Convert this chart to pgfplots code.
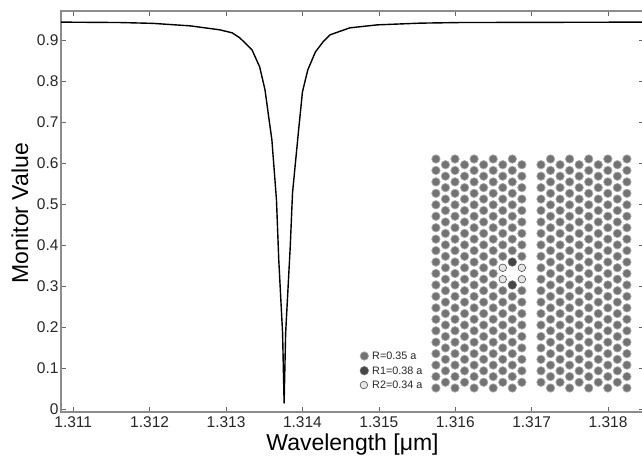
\documentclass[border=0pt]{standalone}
\usepackage{fontspec}
\setmainfont{Liberation Sans}
\usepackage{pgfplots}
\pgfplotsset{compat=1.18}
\definecolor{axisgray}{gray}{0.55}
\definecolor{holegray}{gray}{0.45}
\definecolor{haloegray}{gray}{0.66}
\begin{document}
\begin{tikzpicture}[x=1pt,y=1pt]
\path[use as bounding box] (0,0) rectangle (642,459);
\clip (0,0) rectangle (642,459);
\begin{axis}[
  at={(61pt,47pt)}, anchor=south west,
  scale only axis, width=583pt, height=401pt,
  xmin=1.31084, xmax=1.31847, ymin=-0.0076, ymax=0.9725,
  xtick={1.311,1.312,1.313,1.314,1.315,1.316,1.317,1.318},
  xticklabels={1.311,1.312,1.313,1.314,1.315,1.316,1.317,1.318},
  ytick={0,0.1,0.2,0.3,0.4,0.5,0.6,0.7,0.8,0.9},
  yticklabels={0,0.1,0.2,0.3,0.4,0.5,0.6,0.7,0.8,0.9},
  scaled x ticks=false,
  axis line style={axisgray,line width=1.3pt},
  tick style={black!60,line width=0.7pt},
  major tick length=5pt,
  tick align=inside,
  ticklabel style={font=\fontsize{15.5}{17}\selectfont,text=black!85},
  xticklabel style={yshift=-1pt},
  yticklabel style={xshift=1pt},
  xlabel={Wavelength [μm]},
  ylabel={Monitor Value},
  label style={font=\fontsize{23}{26}\selectfont},
  xlabel style={at={(axis description cs:0.5,-0.097)},anchor=base},
  ylabel style={at={(axis description cs:-0.0566,0.496)},anchor=base},
]
\addplot[black,line width=1.4pt,line join=round] coordinates {
(1.31084,0.9453)(1.31161,0.9443)(1.31204,0.9423)(1.31253,0.9362)(1.31292,0.9264)
(1.31308,0.9191)(1.31318,0.9069)(1.31334,0.8775)(1.31344,0.8359)(1.31351,0.7797)
(1.31356,0.7112)(1.31360,0.6575)(1.31366,0.5108)(1.31369,0.3641)(1.31374,0.1856)
(1.31376,0.0144)(1.31378,0.1856)(1.31384,0.3958)(1.31387,0.5279)(1.31395,0.682)
(1.31400,0.7748)(1.31407,0.8286)(1.31417,0.8726)(1.31427,0.897)(1.31436,0.9142)
(1.31462,0.9313)(1.31498,0.9386)(1.31554,0.9428)(1.31606,0.9443)(1.31847,0.9453)};
\end{axis}
\begin{axis}[
  at={(340pt,59pt)}, anchor=south west,
  scale only axis, width=302pt, height=250pt,
  xmin=-10.042, xmax=21.58, ymin=-2.096, ymax=41.572,
  hide axis, clip=false,
]
\addplot[only marks,mark=*,mark size=4.2pt,
  mark options={fill=holegray,draw=haloegray,line width=0.7pt}] coordinates {
(0,40)(2,40)(4,40)(6,40)(8,40)(12,40)(14,40)(16,40)(18,40)(20,40)
(1,39)(3,39)(5,39)(7,39)(9,39)(11,39)(13,39)(15,39)(17,39)(19,39)
(0,38)(2,38)(4,38)(6,38)(8,38)(12,38)(14,38)(16,38)(18,38)(20,38)
(1,37)(3,37)(5,37)(7,37)(9,37)(11,37)(13,37)(15,37)(17,37)(19,37)
(0,36)(2,36)(4,36)(6,36)(8,36)(12,36)(14,36)(16,36)(18,36)(20,36)
(1,35)(3,35)(5,35)(7,35)(9,35)(11,35)(13,35)(15,35)(17,35)(19,35)
(0,34)(2,34)(4,34)(6,34)(8,34)(12,34)(14,34)(16,34)(18,34)(20,34)
(1,33)(3,33)(5,33)(7,33)(9,33)(11,33)(13,33)(15,33)(17,33)(19,33)
(0,32)(2,32)(4,32)(6,32)(8,32)(12,32)(14,32)(16,32)(18,32)(20,32)
(1,31)(3,31)(5,31)(7,31)(9,31)(11,31)(13,31)(15,31)(17,31)(19,31)
(0,30)(2,30)(4,30)(6,30)(8,30)(12,30)(14,30)(16,30)(18,30)(20,30)
(1,29)(3,29)(5,29)(7,29)(9,29)(11,29)(13,29)(15,29)(17,29)(19,29)
(0,28)(2,28)(4,28)(6,28)(8,28)(12,28)(14,28)(16,28)(18,28)(20,28)
(1,27)(3,27)(5,27)(7,27)(9,27)(11,27)(13,27)(15,27)(17,27)(19,27)
(0,26)(2,26)(4,26)(6,26)(8,26)(12,26)(14,26)(16,26)(18,26)(20,26)
(1,25)(3,25)(5,25)(7,25)(9,25)(11,25)(13,25)(15,25)(17,25)(19,25)
(0,24)(2,24)(4,24)(6,24)(8,24)(12,24)(14,24)(16,24)(18,24)(20,24)
(1,23)(3,23)(5,23)(7,23)(9,23)(11,23)(13,23)(15,23)(17,23)(19,23)
(0,22)(2,22)(4,22)(6,22)(12,22)(14,22)(16,22)(18,22)(20,22)
(1,21)(3,21)(5,21)(11,21)(13,21)(15,21)(17,21)(19,21)
(0,20)(2,20)(4,20)(6,20)(12,20)(14,20)(16,20)(18,20)(20,20)
(1,19)(3,19)(5,19)(11,19)(13,19)(15,19)(17,19)(19,19)
(0,18)(2,18)(4,18)(6,18)(12,18)(14,18)(16,18)(18,18)(20,18)
(1,17)(3,17)(5,17)(7,17)(9,17)(11,17)(13,17)(15,17)(17,17)(19,17)
(0,16)(2,16)(4,16)(6,16)(8,16)(12,16)(14,16)(16,16)(18,16)(20,16)
(1,15)(3,15)(5,15)(7,15)(9,15)(11,15)(13,15)(15,15)(17,15)(19,15)
(0,14)(2,14)(4,14)(6,14)(8,14)(12,14)(14,14)(16,14)(18,14)(20,14)
(1,13)(3,13)(5,13)(7,13)(9,13)(11,13)(13,13)(15,13)(17,13)(19,13)
(0,12)(2,12)(4,12)(6,12)(8,12)(12,12)(14,12)(16,12)(18,12)(20,12)
(1,11)(3,11)(5,11)(7,11)(9,11)(11,11)(13,11)(15,11)(17,11)(19,11)
(0,10)(2,10)(4,10)(6,10)(8,10)(12,10)(14,10)(16,10)(18,10)(20,10)
(1,9)(3,9)(5,9)(7,9)(9,9)(11,9)(13,9)(15,9)(17,9)(19,9)
(0,8)(2,8)(4,8)(6,8)(8,8)(12,8)(14,8)(16,8)(18,8)(20,8)
(1,7)(3,7)(5,7)(7,7)(9,7)(11,7)(13,7)(15,7)(17,7)(19,7)
(0,6)(2,6)(4,6)(6,6)(8,6)(12,6)(14,6)(16,6)(18,6)(20,6)
(1,5)(3,5)(5,5)(7,5)(9,5)(11,5)(13,5)(15,5)(17,5)(19,5)
(0,4)(2,4)(4,4)(6,4)(8,4)(12,4)(14,4)(16,4)(18,4)(20,4)
(1,3)(3,3)(5,3)(7,3)(9,3)(11,3)(13,3)(15,3)(17,3)(19,3)
(0,2)(2,2)(4,2)(6,2)(8,2)(12,2)(14,2)(16,2)(18,2)(20,2)
(1,1)(3,1)(5,1)(7,1)(9,1)(11,1)(13,1)(15,1)(17,1)(19,1)
(0,0)(2,0)(4,0)(6,0)(8,0)(12,0)(14,0)(16,0)(18,0)(20,0)
(-7.497,5.59)};
\addplot[only marks,mark=*,mark size=4.3pt,
  mark options={fill=black!72,draw=black!55,line width=0.5pt}] coordinates {
(8,22)(8,18)(-7.497,3.02)};
\addplot[only marks,mark=*,mark size=3.8pt,
  mark options={fill=black!10,draw=black!70,line width=0.6pt}] coordinates {
(7,21)(9,21)(7,19)(9,19)(-7.54,0.52)};
\node[anchor=west,inner sep=0pt,font=\fontsize{10.8}{12}\selectfont,text=black!85] at (axis cs:-6.69,5.59) {R=0.35 a};
\node[anchor=west,inner sep=0pt,font=\fontsize{10.8}{12}\selectfont,text=black!85] at (axis cs:-6.69,3.02) {R1=0.38 a};
\node[anchor=west,inner sep=0pt,font=\fontsize{10.8}{12}\selectfont,text=black!85] at (axis cs:-6.69,0.52) {R2=0.34 a};
\end{axis}
\end{tikzpicture}
\end{document}
